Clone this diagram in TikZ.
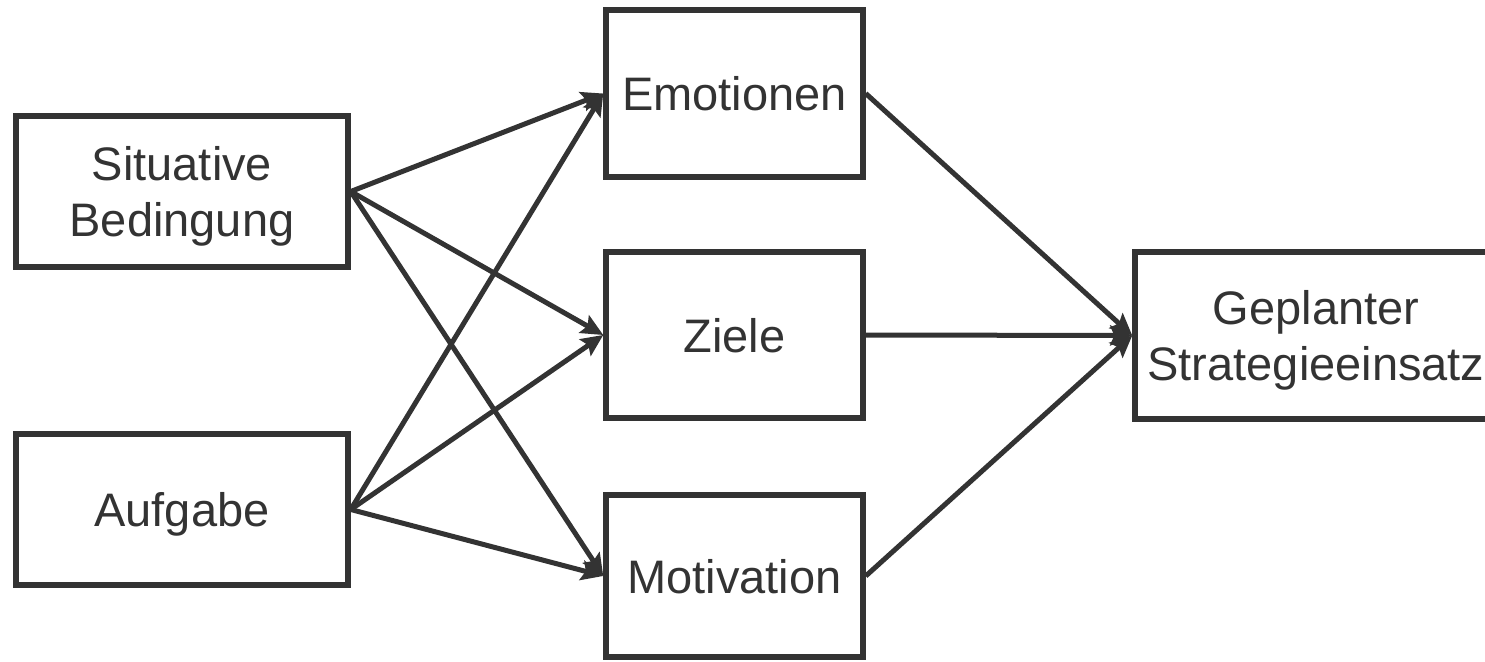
\documentclass[tikz,border=0pt]{standalone}
\usepackage{fontspec}
\setmainfont{Liberation Sans}
\usetikzlibrary{arrows.meta}
\definecolor{ink}{HTML}{333333}

\begin{document}
\begin{tikzpicture}[x=1pt,y=-1pt,
  box/.style={draw=ink,line width=5.5pt,text=ink,align=center,inner sep=0pt,
    text depth=0pt,font=\fontsize{47}{56}\selectfont},
  link/.style={draw=ink,line width=5pt,-{Stealth[length=22pt,width=20pt,inset=4pt]}}]
\useasboundingbox (0,0) rectangle (1485,661);
% Inputs
\node[box,minimum width=332pt,minimum height=151pt] (sit) at (182,191.5) {Situative\\Bedingung};
\node[box,minimum width=332pt,minimum height=151pt] (auf) at (182,509.5) {Aufgabe};

% Mediators
\node[box,minimum width=257pt,minimum height=167pt] (emo) at (734.5,93.5) {Emotionen};
\node[box,minimum width=257pt,minimum height=166pt] (ziel) at (734.5,335) {Ziele};
\node[box,minimum width=257pt,minimum height=162pt] (mot) at (734.5,576) {Motivation};

% Outcome
\node[box,minimum width=362pt,minimum height=167pt] (plan) at (1316,335.5) {Geplanter\\Strategieeinsatz};

% Connections
\foreach \src in {sit,auf}
  \foreach \dst in {emo,ziel,mot}
    \draw[link] (\src.east) -- (\dst.west);
\foreach \src in {emo,ziel,mot}
  \draw[link] (\src.east) -- (plan.west);
\end{tikzpicture}
\end{document}
